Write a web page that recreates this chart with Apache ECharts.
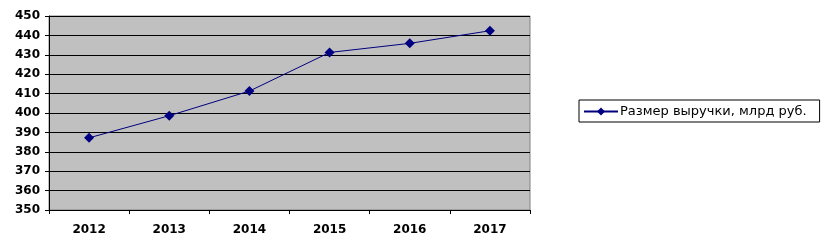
<!DOCTYPE html>
<html><head><meta charset="utf-8">
<script src="https://cdn.jsdelivr.net/npm/echarts@6/dist/echarts.min.js"></script>
<style>html,body{margin:0;padding:0;background:#fff}#c{width:824px;height:245px}</style>
</head><body><div id="c"></div>
<script>
var categories = ['2012','2013','2014','2015','2016','2017'];
var revenue = [387.2, 398.6, 411.3, 431.2, 435.9, 442.4];
var seriesName = 'Размер выручки, млрд руб.';
var yMin = 350, yMax = 450, yStep = 10;

var chart = echarts.init(document.getElementById('c'), null, {renderer:'canvas'});
chart.setOption({
  animation:false,
  grid:{left:49,right:294,top:16,bottom:35,show:true,backgroundColor:'#C0C0C0',borderColor:'#808080',borderWidth:1},
  legend:{
    show:true, left:579, top:100, orient:'vertical',
    data:[seriesName],
    itemWidth:34, itemHeight:10, itemGap:0,
    padding:[5,13,4,4], borderColor:'#000', borderWidth:1,
    textStyle:{fontFamily:'DejaVu Sans, Verdana, sans-serif',fontSize:13,color:'#000',padding:[0,0,0,-3]}
  },
  xAxis:{
    type:'category', data:categories, boundaryGap:true,
    axisLine:{lineStyle:{color:'#000',width:1}},
    axisTick:{show:true,length:4,inside:false,lineStyle:{color:'#000'}},
    axisLabel:{margin:14,fontFamily:'DejaVu Sans, Verdana, sans-serif',fontWeight:'bold',fontSize:12,color:'#000'},
    splitLine:{show:false}
  },
  yAxis:{
    type:'value', min:yMin, max:yMax, interval:yStep,
    axisLine:{show:true,lineStyle:{color:'#000',width:1}},
    axisTick:{show:true,length:4,lineStyle:{color:'#000'}},
    axisLabel:{margin:9,fontFamily:'DejaVu Sans, Verdana, sans-serif',fontWeight:'bold',fontSize:12,color:'#000'},
    splitLine:{show:true,lineStyle:{color:'#000',width:1}}
  },
  series:[{
    name:seriesName, type:'line', data:revenue,
    symbol:'diamond', symbolSize:10,
    lineStyle:{color:'#000080',width:1},
    itemStyle:{color:'#000080'}
  }]
});
</script></body></html>
